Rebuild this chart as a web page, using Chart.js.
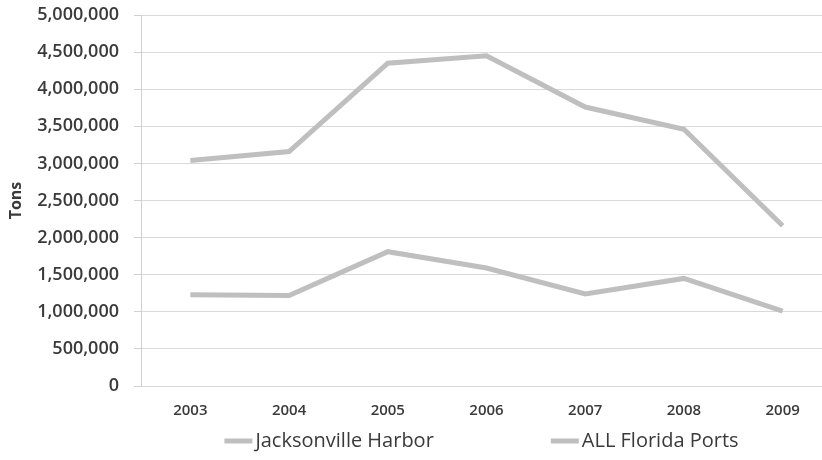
<!DOCTYPE html>
<html>
<head>
<meta charset="utf-8">
<script src="https://cdn.jsdelivr.net/npm/chart.js@4"></script>
<style>
  html, body { margin: 0; padding: 0; background: #fff; overflow: hidden; width: 822px; height: 460px; }
  #wrap { position: relative; width: 850px; height: 460px; }
</style>
</head>
<body>
<div id="wrap"><canvas id="c" width="850" height="460"></canvas></div>
<script>
const years = ['2003', '2004', '2005', '2006', '2007', '2008', '2009'];
const jacksonvilleHarbor = [1230000, 1220000, 1810000, 1590000, 1240000, 1450000, 1010000];
const allFloridaPorts = [3040000, 3160000, 4350000, 4450000, 3760000, 3460000, 2160000];
const seriesNames = ['Jacksonville Harbor', 'ALL Florida Ports'];
const yTitle = 'Tons';

const lineColor = '#bfbfbf';
const textColor = '#3a3a3a';

const customLegend = {
  id: 'customLegend',
  afterDraw(chart) {
    const ctx = chart.ctx;
    ctx.save();
    ctx.font = '20px "Open Sans"';
    const lineW = 28, gapLT = 3, gapItems = 117;
    const items = chart.data.datasets.map(ds => ({ text: ds.label, color: ds.borderColor, w: lineW + gapLT + ctx.measureText(ds.label).width }));
    const total = items.reduce((s, it) => s + it.w, 0) + gapItems * (items.length - 1);
    let x = 481.5 - total / 2;
    const y = 441;
    items.forEach(it => {
      ctx.strokeStyle = it.color;
      ctx.lineWidth = 5;
      ctx.beginPath();
      ctx.moveTo(x, y);
      ctx.lineTo(x + lineW, y);
      ctx.stroke();
      ctx.fillStyle = textColor;
      ctx.textBaseline = 'middle';
      ctx.textAlign = 'left';
      ctx.fillText(it.text, x + lineW + gapLT, y);
      x += it.w + gapItems;
    });
    ctx.restore();
  }
};

new Chart(document.getElementById('c'), {
  type: 'line',
  data: {
    labels: years,
    datasets: [
      { label: seriesNames[0], data: jacksonvilleHarbor, borderColor: lineColor, backgroundColor: lineColor, borderWidth: 5, pointRadius: 0, tension: 0, fill: false },
      { label: seriesNames[1], data: allFloridaPorts, borderColor: lineColor, backgroundColor: lineColor, borderWidth: 5, pointRadius: 0, tension: 0, fill: false }
    ]
  },
  options: {
    responsive: false,
    animation: false,
    devicePixelRatio: 1,
    layout: { padding: { left: 0, right: 18, top: 15, bottom: 24 } },
    plugins: {
      legend: { display: false },
      tooltip: { enabled: false }
    },
    scales: {
      x: {
        offset: true,
        grid: { display: false, drawTicks: false },
        border: { display: false },
        ticks: { color: textColor, font: { family: 'Open Sans', size: 15, weight: '600' }, padding: 16, maxRotation: 0 }
      },
      y: {
        min: 0,
        max: 5000000,
        afterFit(scale) { scale.width = 141; scale.paddingTop = 0; },
        ticks: {
          stepSize: 500000,
          color: textColor,
          padding: 15,
          font: { family: 'Open Sans', size: 18, weight: '600' },
          callback: v => v.toLocaleString('en-US')
        },
        grid: { color: '#d9d9d9', lineWidth: 1, tickLength: 7, tickColor: '#d0d0d0' },
        border: { display: true, color: '#d0d0d0', dash: [] },
        title: { display: true, text: yTitle, color: textColor, font: { family: 'Open Sans', size: 16, weight: 'bold' }, padding: { top: 7, bottom: 0 } }
      }
    }
  },
  plugins: [customLegend]
});
</script>
</body>
</html>
